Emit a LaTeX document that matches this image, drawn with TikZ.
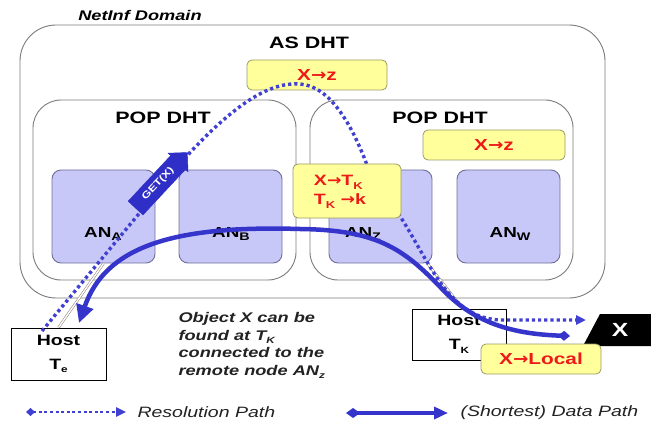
\documentclass[tikz,border=0pt]{standalone}
\usepackage{fontspec}
\setmainfont{Liberation Sans}[FakeStretch=1.3]
\newfontfamily\arrowfont{DejaVu Sans}[FakeStretch=1.15]
\usetikzlibrary{arrows.meta,shapes.arrows}

\definecolor{framegray}{HTML}{7C7C7C}
\definecolor{anfill}{HTML}{C8C8F8}
\definecolor{anedge}{HTML}{70709A}
\definecolor{yfill}{HTML}{FFFF9C}
\definecolor{yedge}{HTML}{9A9A66}
\definecolor{rtext}{HTML}{EE1A1A}
\definecolor{resblue}{HTML}{4040D2}
\definecolor{datablue}{HTML}{3535CC}
\definecolor{getblue}{HTML}{2F2FC8}
\definecolor{linkgray}{HTML}{8A7F70}
\definecolor{legendtext}{HTML}{222222}

% lowered subscript used in the labels
\newcommand{\lowsub}[2][11]{\raisebox{-0.45ex}{\fontsize{#1}{#1}\selectfont #2}}
% heavy mapping arrow
\newcommand{\maps}{{\arrowfont\bfseries →}}

\begin{document}
\begin{tikzpicture}[x=1pt,y=-1pt,
  region/.style={draw=framegray, line width=0.9pt, rounded corners=#1, inner sep=0pt},
  region/.default=30pt,
  anbox/.style={draw=anedge, fill=anfill, line width=0.9pt, rounded corners=9pt,
    minimum width=103pt, minimum height=93pt, inner sep=0pt},
  ybox/.style={draw=yedge, fill=yfill, line width=0.8pt, rounded corners=5pt,
    inner sep=0pt, text=rtext, font=\bfseries\fontsize{16}{19}\selectfont, align=center},
  hostbox/.style={draw=black, line width=0.9pt, fill=white, inner sep=0pt,
    align=center, font=\bfseries\fontsize{15}{24}\selectfont},
  titletext/.style={font=\bfseries\fontsize{16.5}{18}\selectfont},
  anlabel/.style={font=\bfseries\fontsize{14.5}{16}\selectfont},
  respath/.style={draw=resblue, line width=3.4pt, dash pattern=on 3.2pt off 3pt},
  datapath/.style={draw=datablue, line width=4.5pt},
  linkline/.style={draw=linkgray, line width=0.5pt, double=white, double distance=1.4pt},
  legendlabel/.style={anchor=west, text=legendtext, font=\itshape\fontsize{15}{17}\selectfont},
]
\useasboundingbox (0,0) rectangle (651,425);
\fill[white] (0,0) rectangle (651,425);

% ---- nested DHT regions ----
\node[region=36pt, minimum width=585pt, minimum height=273pt] (domain) at (312.5,161.5) {};
\node[font=\bfseries\itshape\fontsize{14}{16}\selectfont] (domainlbl) at (140,15) {NetInf Domain};
\node[titletext] (aslbl) at (309,43) {AS DHT};

\node[region=28pt, minimum width=263pt, minimum height=180pt] (popL) at (164.5,190) {};
\node[region=28pt, minimum width=263pt, minimum height=180pt] (popR) at (441.5,190) {};
\node[titletext] (popLlbl) at (163,118) {POP DHT};
\node[titletext] (popRlbl) at (440,118) {POP DHT};

% ---- access nodes ----
\node[anbox] (anA) at (103.5,216.5) {};
\node[anbox] (anB) at (230.5,216.5) {};
\node[anbox] (anZ) at (380.5,216.5) {};
\node[anbox] (anW) at (508.5,216.5) {};
\node[anlabel] (anAlbl) at (103,234) {AN\lowsub{A}};
\node[anlabel] (anBlbl) at (231,234) {AN\lowsub{B}};
\node[anlabel] (anZlbl) at (363,234) {AN\lowsub{Z}};
\node[anlabel] (anWlbl) at (510,234) {AN\lowsub{W}};

% ---- mapping tables ----
\node[ybox, minimum width=140pt, minimum height=30pt] (asmap) at (317,75) {X\maps z};
\node[ybox, minimum width=142pt, minimum height=30pt] (popmap) at (494,145) {X\maps z};

% ---- hosts and their links ----
\node[hostbox, minimum width=95pt, minimum height=52pt] (hostTe) at (58.5,354) {Host\\T\lowsub[9]{e}};
\node[hostbox, minimum width=94pt, minimum height=51pt] (hostTk) at (459,334.5) {Host\\T\lowsub[9]{K}};
\draw[linkline] (anA.south) -- (hostTe.north);
\draw[linkline] (anZ.-45) -- (463,309);

% ---- object X ----
\fill[black] (583,346) -- (600,314) -- (651,314) -- (651,346) -- cycle;
\node[text=white, font=\bfseries\fontsize{19}{20}\selectfont] (xobj) at (620,330) {X};

% ---- resolution path ----
\coordinate (rstart) at (42,331);
\coordinate (rend) at (586,320);
\draw[respath, -{Triangle[length=10pt,width=9pt]}]
  (rstart) -- (185,158)
  .. controls (238,100) and (272,82) .. (300,84)
  .. controls (330,86) and (352,125) .. (367,165)
  -- (398,213)
  .. controls (430,262) and (448,318) .. (500,320)
  -- (rend);

\node[single arrow, fill=getblue, draw=getblue, text=white,
  font=\bfseries\fontsize{9.5}{10}\selectfont, inner xsep=3pt, inner ysep=5.5pt,
  single arrow head extend=3.5pt, minimum height=76pt, rotate=47] (getx) at (158,184) {GET(X)};

\node[ybox, minimum width=108pt, minimum height=54pt] (anzmap) at (347,191) {};
\node[text=rtext, font=\bfseries\fontsize{15}{19}\selectfont, align=left] (anzmaptxt) at (340,192)
  {X\maps T\lowsub[10]{K}\\T\lowsub[10]{K} \maps k};

% ---- data path ----
\coordinate (dstart) at (570,336);
\coordinate (dend) at (79,323);
\draw[datapath, {Diamond[length=12pt,width=10pt]}-{Triangle[length=18pt,width=17pt]}]
  (dstart) .. controls (510,334) and (475,322) .. (445,292)
  .. controls (405,250) and (380,230) .. (300,229)
  .. controls (170,225) and (105,248) .. (dend);

\node[ybox, minimum width=120pt, minimum height=30pt] (localmap) at (541,359) {X\maps Local};

% ---- explanation ----
\node[anchor=north west, align=left, text=legendtext,
  font=\bfseries\itshape\fontsize{14}{17.5}\selectfont] (note) at (175,309)
  {Object X can be\\found at T\lowsub[9]{K}\\connected to the\\remote node AN\lowsub[9]{z}};

% ---- legend ----
\coordinate (lr1) at (26,412);
\coordinate (lr2) at (126,412);
\draw[respath, line width=2.4pt, dash pattern=on 3pt off 2.6pt,
  {Diamond[length=9pt,width=8pt]}-{Triangle[length=10pt,width=9pt]}] (lr1) -- (lr2);
\node[legendlabel] (lres) at (134,412) {Resolution Path};
\coordinate (ld1) at (346,413);
\coordinate (ld2) at (448,413);
\draw[datapath, line width=3.6pt,
  {Diamond[length=14pt,width=10pt]}-{Triangle[length=14pt,width=12pt]}] (ld1) -- (ld2);
\node[legendlabel] (ldata) at (457,413) {(Shortest) Data Path};
\end{tikzpicture}
\end{document}
